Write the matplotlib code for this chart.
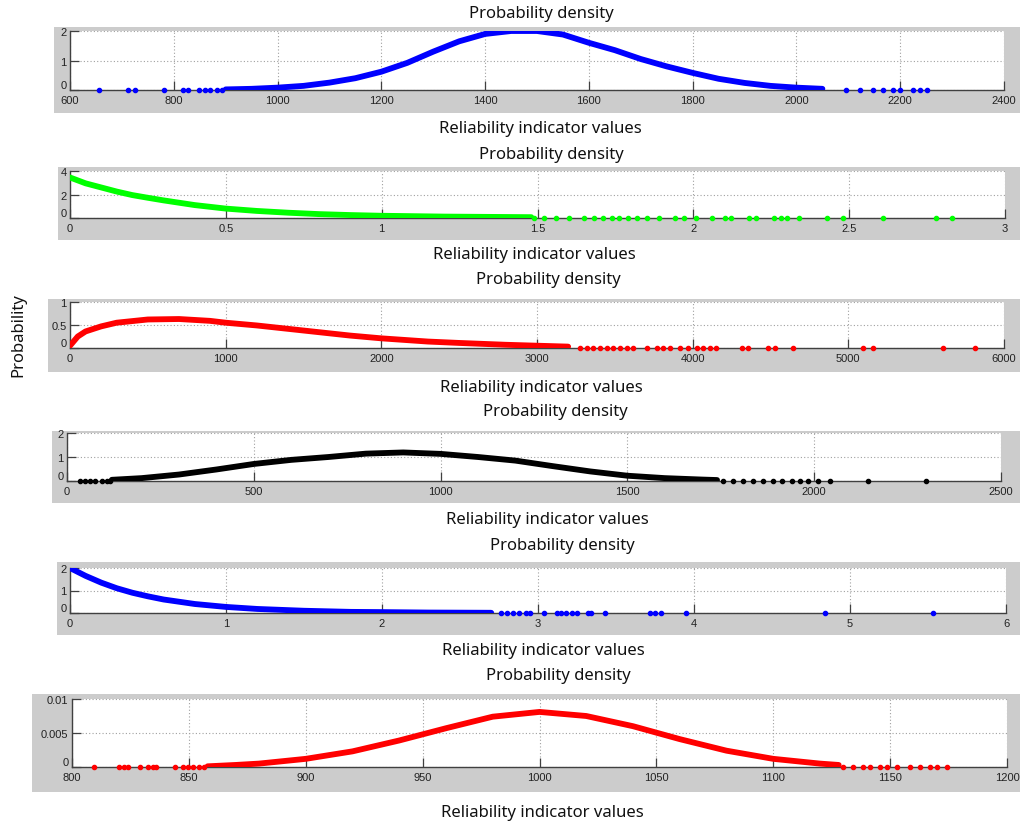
import matplotlib
matplotlib.use("Agg")
import matplotlib.pyplot as plt
from matplotlib.patches import Rectangle

W, H = 1025, 828

# ---------------- data ----------------
# Panel 1
p1_curve_x = [900, 950, 1000, 1050, 1100, 1150, 1200, 1250, 1300, 1350, 1400, 1450, 1500,
              1550, 1600, 1650, 1700, 1750, 1800, 1850, 1900, 1950, 2000, 2050]
p1_curve_y = [0.02, 0.04, 0.08, 0.14, 0.25, 0.40, 0.62, 0.92, 1.30, 1.65, 1.90, 2.00, 2.00,
              1.88, 1.60, 1.35, 1.05, 0.80, 0.58, 0.38, 0.24, 0.14, 0.08, 0.04]
p1_tail_x = [655, 711, 725, 782, 818, 828, 849, 860, 870, 883, 892,
             2096, 2122, 2148, 2167, 2186, 2199, 2225, 2238, 2251]

# Panel 2
p2_curve_x = [0, 0.05, 0.1, 0.15, 0.2, 0.25, 0.3, 0.4, 0.5, 0.6, 0.7, 0.8, 0.9, 1.0, 1.2, 1.48]
p2_curve_y = [3.45, 2.95, 2.60, 2.25, 1.95, 1.72, 1.50, 1.10, 0.80, 0.60, 0.45, 0.33, 0.25,
              0.19, 0.12, 0.07]
p2_tail_x = [1.49, 1.52, 1.56, 1.60, 1.65, 1.68, 1.71, 1.74, 1.76, 1.79, 1.82, 1.85, 1.89,
             1.94, 1.97, 2.01, 2.06, 2.10, 2.12, 2.18, 2.20, 2.26, 2.28, 2.30, 2.34, 2.43,
             2.48, 2.61, 2.78, 2.83]

# Panel 3
p3_curve_x = [0, 50, 100, 200, 300, 500, 700, 900, 1000, 1200, 1500, 1800, 2000, 2300,
              2500, 2800, 3000, 3200]
p3_curve_y = [0.05, 0.25, 0.36, 0.47, 0.55, 0.62, 0.63, 0.59, 0.55, 0.49, 0.38, 0.27, 0.21,
              0.14, 0.11, 0.07, 0.05, 0.03]
p3_tail_x = [3275, 3318, 3361, 3404, 3447, 3490, 3532, 3575, 3618, 3704, 3768, 3811, 3854,
             3918, 3971, 4025, 4068, 4110, 4153, 4314, 4357, 4485, 4528, 4646, 5095, 5159,
             5609, 5812]

# Panel 4
p4_curve_x = [120, 200, 300, 400, 500, 600, 700, 800, 900, 1000, 1100, 1200, 1300, 1400,
              1500, 1600, 1700, 1740]
p4_curve_y = [0.05, 0.12, 0.27, 0.48, 0.71, 0.88, 1.00, 1.14, 1.19, 1.13, 1.00, 0.85, 0.62,
              0.40, 0.22, 0.12, 0.06, 0.04]
p4_tail_x = [35, 48, 62, 75, 93, 106, 115, 1757, 1783, 1810, 1837, 1864, 1891, 1913, 1940,
             1962, 1984, 2011, 2042, 2145, 2299]

# Panel 5
p5_curve_x = [0, 0.1, 0.2, 0.3, 0.4, 0.5, 0.6, 0.8, 1.0, 1.2, 1.5, 1.8, 2.0, 2.3, 2.7]
p5_curve_y = [2.00, 1.65, 1.35, 1.10, 0.90, 0.74, 0.60, 0.40, 0.27, 0.18, 0.10, 0.05, 0.04,
              0.02, 0.01]
p5_tail_x = [2.76, 2.80, 2.84, 2.88, 2.92, 2.95, 3.04, 3.12, 3.15, 3.18, 3.22, 3.25, 3.32,
             3.34, 3.43, 3.72, 3.75, 3.79, 3.95, 4.84, 5.53]

# Panel 6
p6_curve_x = [858, 870, 880, 900, 920, 940, 960, 980, 1000, 1020, 1040, 1060, 1080, 1100,
              1120, 1128]
p6_curve_y = [0.0001, 0.0003, 0.0005, 0.0012, 0.0023, 0.0039, 0.0057, 0.0074, 0.0081,
              0.0075, 0.0060, 0.0041, 0.0024, 0.0012, 0.0005, 0.0003]
p6_tail_x = [809.6, 820.2, 822.2, 824.1, 829.1, 832.6, 834.5, 835.9, 844.1, 847.3, 849.8,
             851.9, 854.5, 856.5, 1130, 1134, 1138.5, 1141.4, 1145.7, 1148.5, 1152.8,
             1158.5, 1162.8, 1167, 1169.9, 1174.2]

x_ticks = [[600, 800, 1000, 1200, 1400, 1600, 1800, 2000, 2200, 2400],
           [0, 0.5, 1, 1.5, 2, 2.5, 3],
           [0, 1000, 2000, 3000, 4000, 5000, 6000],
           [0, 500, 1000, 1500, 2000, 2500],
           [0, 1, 2, 3, 4, 5, 6],
           [800, 850, 900, 950, 1000, 1050, 1100, 1150, 1200]]
x_labels = [["600", "800", "1000", "1200", "1400", "1600", "1800", "2000", "2200", "2400"],
            ["0", "0.5", "1", "1.5", "2", "2.5", "3"],
            ["0", "1000", "2000", "3000", "4000", "5000", "6000"],
            ["0", "500", "1000", "1500", "2000", "2500"],
            ["0", "1", "2", "3", "4", "5", "6"],
            ["800", "850", "900", "950", "1000", "1050", "1100", "1150", "1200"]]
y_ticks = [[0, 1, 2], [0, 2, 4], [0, 0.5, 1], [0, 1, 2], [0, 1, 2], [0, 0.005, 0.01]]
y_labels = [["0", "1", "2"], ["0", "2", "4"], ["0", "0.5", "1"], ["0", "1", "2"],
            ["0", "1", "2"], ["0", "0.005", "0.01"]]

title_text = "Probability density"
xlabel_text = "Reliability indicator values"
ylabel_text = "Probability"

curves = [(p1_curve_x, p1_curve_y, p1_tail_x, "#0000ff"),
          (p2_curve_x, p2_curve_y, p2_tail_x, "#00ff00"),
          (p3_curve_x, p3_curve_y, p3_tail_x, "#ff0000"),
          (p4_curve_x, p4_curve_y, p4_tail_x, "#000000"),
          (p5_curve_x, p5_curve_y, p5_tail_x, "#0000ff"),
          (p6_curve_x, p6_curve_y, p6_tail_x, "#ff0000")]

# ---------------- layout (pixels) ----------------
grey_boxes = [(54, 28, 1020, 114), (58, 168, 1020, 241), (48, 300, 1020, 373),
              (52, 432, 1020, 504), (57, 563, 1020, 636), (32, 695, 1020, 793)]
axes_boxes = [(70, 32, 1004, 91), (70, 172, 1005, 219), (70, 303, 1004, 349),
              (67, 434, 1001, 482), (70, 569, 1006, 614), (72, 700, 1007, 768)]
title_pos = [(541, 14), (551, 155), (548, 280), (555, 412), (562, 546), (558, 676)]
xlabel_pos = [(540, 129), (534, 255), (541, 388), (547, 520), (543, 651), (542, 813)]

fig = plt.figure(figsize=(W / 100, H / 100), dpi=100)
fig.patch.set_facecolor("white")

text_font = ["Noto Sans", "DejaVu Sans"]
tick_font = ["Liberation Sans", "DejaVu Sans"]

for i in range(6):
    gx0, gy0, gx1, gy1 = grey_boxes[i]
    fig.add_artist(Rectangle((gx0 / W, 1 - gy1 / H), (gx1 - gx0) / W, (gy1 - gy0) / H,
                             transform=fig.transFigure, facecolor="#cccccc",
                             edgecolor="none", zorder=0))
    ax0, ay0, ax1, ay1 = axes_boxes[i]
    ax = fig.add_axes([ax0 / W, 1 - ay1 / H, (ax1 - ax0) / W, (ay1 - ay0) / H])
    ax.set_facecolor("white")
    cx, cy, tx, col = curves[i]
    ax.plot(cx, cy, color=col, lw=4.2, solid_capstyle="round", zorder=3)
    ax.plot(tx, [0] * len(tx), linestyle="none", marker="o", ms=3.0, color=col,
            clip_on=False, zorder=4)
    ax.set_xlim(x_ticks[i][0], x_ticks[i][-1])
    ax.set_ylim(y_ticks[i][0], y_ticks[i][-1])
    ax.set_xticks(x_ticks[i])
    ax.set_xticklabels(x_labels[i])
    ax.set_yticks(y_ticks[i])
    ax.set_yticklabels(y_labels[i])
    for s in ("top", "right"):
        ax.spines[s].set_visible(False)
    for s in ("left", "bottom"):
        ax.spines[s].set_color("#404040")
        ax.spines[s].set_linewidth(1.0)
    ax.grid(True, linestyle=(0, (1, 2)), color="#a0a0a0", lw=0.8)
    ax.tick_params(direction="in", length=6.5, width=0.9, color="#404040",
                   labelsize=8, labelcolor="#222222")
    ax.tick_params(axis="x", pad=3.5)
    ax.tick_params(axis="y", pad=2.5)
    for lab in ax.get_xticklabels() + ax.get_yticklabels():
        lab.set_family(tick_font)
    # lift the y "0" label a little so it sits above the first x label, as in the reference
    ax.get_yticklabels()[0].set_verticalalignment("bottom")
    fig.text(title_pos[i][0] / W, 1 - title_pos[i][1] / H, title_text, ha="center",
             va="center", fontsize=12, family=text_font, color="#111111")
    fig.text(xlabel_pos[i][0] / W, 1 - xlabel_pos[i][1] / H, xlabel_text, ha="center",
             va="center", fontsize=12, family=text_font, color="#111111")

fig.text(18 / W, 1 - 335 / H, ylabel_text, rotation=90, ha="center", va="center",
         fontsize=12, family=text_font, color="#111111")

fig.savefig("out.png", dpi=100)
